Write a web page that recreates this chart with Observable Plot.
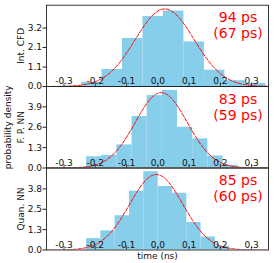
<!DOCTYPE html>
<html><head><meta charset="utf-8">
<script src="https://cdn.jsdelivr.net/npm/d3@7"></script>
<script src="https://cdn.jsdelivr.net/npm/@observablehq/plot@0.6"></script>
<style>
body{margin:0;background:#fff}
#chart{position:relative;width:274px;height:263px}
#chart svg{position:absolute;left:0;top:0}
</style>
</head><body><div id="chart"></div>
<script>
// ---- data ----
const panelNames = ["Int. CFD", "F. P. NN", "Quan. NN"];
const sigmaLabels = ["94 ps", "83 ps", "85 ps"];
const sigmaSubLabels = ["(67 ps)", "(59 ps)", "(60 ps)"];

const edgesCFD = [-0.244, -0.1785, -0.113, -0.0475, 0.018, 0.0835, 0.149, 0.2145, 0.280, 0.3455];
const densCFD = [0.22, 0.93, 2.63, 3.83, 4.13, 2.44, 0.89, 0.32, 0.17];

const edgesFP = [-0.228, -0.1795, -0.131, -0.0825, -0.034, 0.0145, 0.063, 0.1115, 0.160, 0.2085, 0.257];
const densFP = [0.72, 0.80, 1.47, 3.29, 4.62, 4.95, 2.60, 1.86, 0.77, 0.17];

const edgesQuan = [-0.228, -0.1822, -0.1364, -0.0906, -0.0448, 0.001, 0.0468, 0.0926, 0.1384, 0.1842, 0.230];
const densQuan = [0.71, 1.19, 2.13, 3.66, 4.87, 3.95, 3.53, 1.71, 0.81, 0.23];

const fitMu = [0.022, 0.011, -0.005];
const fitSigma = [0.094, 0.083, 0.085];

const yTicksCFD = [0, 3.2 / 3, 6.4 / 3, 3.2];
const yTicksFP = [0, 1.3, 2.6, 3.9];
const yTicksQuan = [0, 3.8 / 3, 7.6 / 3, 3.8];
const xTicks = [-0.3, -0.2, -0.1, 0, 0.1, 0.2, 0.3];
const xDomain = [-0.356, 0.354];
const yMaxes = [4.45, 5.2, 5.1];
const xLabel = "time (ns)";
const yLabel = "probability density";

// ---- layout ----
const W = 274, H = 263;
const frameTops = [4.7, 86, 167.5];
const frameBottoms = [86, 167.5, 249.5];
const font = "DejaVu Sans";
const fmt = d => d3.format(".1f")(d).replace("\u2212", "-");

const edgesAll = [edgesCFD, edgesFP, edgesQuan];
const densAll = [densCFD, densFP, densQuan];
const yTicksAll = [yTicksCFD, yTicksFP, yTicksQuan];

const chart = document.getElementById("chart");

for (let p = 0; p < 3; p++) {
  const edges = edgesAll[p], dens = densAll[p];
  const bars = dens.map((d, i) => ({x1: edges[i], x2: edges[i + 1], y: d}));
  const mu = fitMu[p], s = fitSigma[p];
  const curve = d3.range(xDomain[0], xDomain[1] + 1e-9, 0.004).map(x => ({
    x, y: Math.exp(-((x - mu) ** 2) / (2 * s * s)) / (s * Math.sqrt(2 * Math.PI))
  }));
  const frameH = frameBottoms[p] - frameTops[p];
  const marks = [
    Plot.rectY(bars, {x1: "x1", x2: "x2", y: "y", fill: "#87ceeb", insetLeft: 0, insetRight: 0}),
    Plot.line(curve, {x: "x", y: "y", stroke: "red", strokeWidth: 1, strokeDasharray: "3.7,1.6", clip: true}),
    Plot.tickX(xTicks, {x: d => d, stroke: "#222", strokeWidth: 0.8, insetTop: frameH - 3.5}),
    Plot.text(xTicks, {x: d => d, frameAnchor: "bottom", lineAnchor: "bottom", dy: -2.3, text: d => fmt(d), fontSize: 9, fill: "#111"}),
    Plot.axisY({ticks: yTicksAll[p], tickFormat: fmt, tickSize: 3.5, tickPadding: 1, fontSize: 9, label: null, stroke: "#222", fill: "#111"}),
    Plot.frame({stroke: "#222", strokeWidth: 0.9}),
    Plot.text([panelNames[p]], {text: d => d, frameAnchor: "left", dx: -25, rotate: -90, textAnchor: "middle", lineAnchor: "middle", fontSize: 9, fill: "#111"}),
    Plot.text([sigmaLabels[p] + "\n" + sigmaSubLabels[p]], {text: d => d, frameAnchor: "top-right", dx: -30.5, dy: 6, textAnchor: "middle", lineAnchor: "top", lineHeight: 1.13, fontSize: 14, fill: "red"})
  ];
  if (p === 1) {
    marks.push(Plot.text([yLabel], {text: d => d, frameAnchor: "left", dx: -38.7, rotate: -90, textAnchor: "middle", lineAnchor: "middle", fontSize: 9, fill: "#111"}));
  }
  if (p === 2) {
    marks.push(Plot.text([xLabel], {text: d => d, frameAnchor: "bottom", dy: 3, textAnchor: "middle", lineAnchor: "top", fontSize: 9, fill: "#111"}));
  }
  const svg = Plot.plot({
    width: W, height: H,
    marginLeft: 46, marginRight: 6,
    marginTop: frameTops[p], marginBottom: H - frameBottoms[p],
    x: {domain: xDomain, axis: null},
    y: {domain: [0, yMaxes[p]], axis: null},
    style: {background: "transparent", fontFamily: font, overflow: "visible"},
    marks
  });
  chart.appendChild(svg);
}
</script>
</body></html>
